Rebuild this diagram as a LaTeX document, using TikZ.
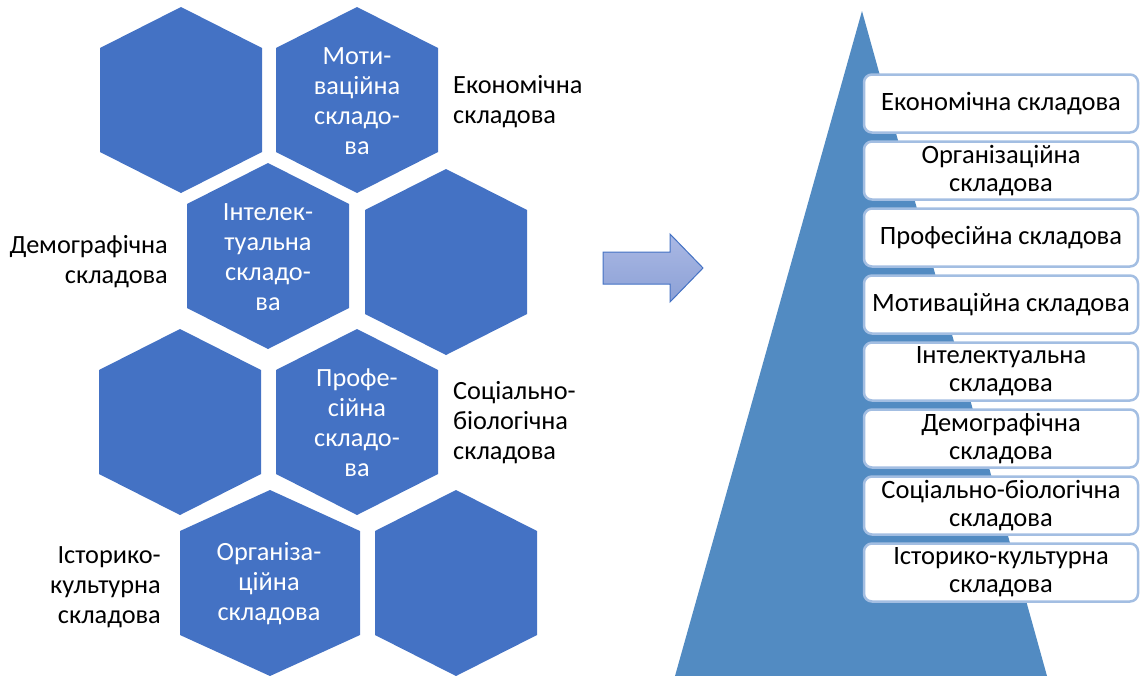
\documentclass[tikz,border=0pt]{standalone}
\usepackage{fontspec}
\setmainfont{Carlito}
\usetikzlibrary{positioning}

\definecolor{hexblue}{RGB}{68,114,196}
\definecolor{pyrblue}{RGB}{82,139,194}
\definecolor{boxline}{RGB}{163,190,226}
\definecolor{arrowtop}{RGB}{170,184,228}
\definecolor{arrowbot}{RGB}{140,161,214}

\begin{document}
\begin{tikzpicture}[x=1pt, y=-1pt,
    hex/.style={fill=hexblue},
    hex text/.style={text=white, align=center, inner sep=0pt},
    side text/.style={inner sep=0pt},
    stage box/.style={draw=boxline, line width=2.5pt, fill=white, rounded corners=8pt,
      minimum width=274pt, minimum height=58pt, align=center, inner sep=0pt,
      font=\fontsize{26.5}{28}\selectfont},
    block arrow/.style={draw=hexblue, line width=1pt, top color=arrowtop, bottom color=arrowbot}]
        \tikzstyle{every node}=[font=\fontsize{26.3}{30}\selectfont]
        \useasboundingbox (0,0) rectangle (1140,675);

          % honeycomb
          \foreach \x/\y/\w in {181/100/81, 357/100/81, 268/256/81, 446/262/81,
                                180/422/81, 357/422/81, 270/583/90, 456/583/81}
            \fill[hex] (\x,\y-93) -- (\x+\w,\y-52) -- (\x+\w,\y+52) -- (\x,\y+93)
                       -- (\x-\w,\y+52) -- (\x-\w,\y-52) -- cycle;

          \node[hex text] (2) at (357,101) {Моти-\\ваційна\\складо-\\ва};
          \node[hex text] (3) at (268,257) {Інтелек-\\туальна\\складо-\\ва};
          \node[hex text] (6) at (357,423) {Профе-\\сійна\\складо-\\ва};
          \node[hex text] (7) at (269,584) {Організа-\\ційна\\складова};

          \node[side text, anchor=west, align=left] (econ) at (453,102) {Економічна\\складова};
          \node[side text, anchor=east, align=right] (demo) at (168,262) {Демографічна\\складова};
          \node[side text, anchor=west, align=left] (soc) at (453,423) {Соціально-\\біологічна\\складова};
          \node[side text, anchor=east, align=right] (hist) at (161,587) {Історико-\\культурна\\складова};

          % arrow
          \draw[block arrow] (603,252) -- (670,252) -- (670,234) -- (703,268)
                             -- (670,302) -- (670,284) -- (603,284) -- cycle;

          % pyramid
          \coordinate (apex) at (862,11);
          \coordinate (left foot) at (675,676);
          \coordinate (right foot) at (1047,676);
          \fill[pyrblue] (apex) -- (right foot) -- (left foot) -- cycle;

          \foreach \i/\t in {1/{Економічна складова}, 2/{Організаційна\\складова},
                             3/{Професійна складова}, 4/{Мотиваційна складова},
                             5/{Інтелектуальна\\складова}, 6/{Демографічна\\складова},
                             7/{Соціально-біологічна\\складова}, 8/{Історико-культурна\\складова}}
            \node[stage box] (b\i) at (1001,103.5+67*\i-67) {\t};

        \end{tikzpicture}
\end{document}
